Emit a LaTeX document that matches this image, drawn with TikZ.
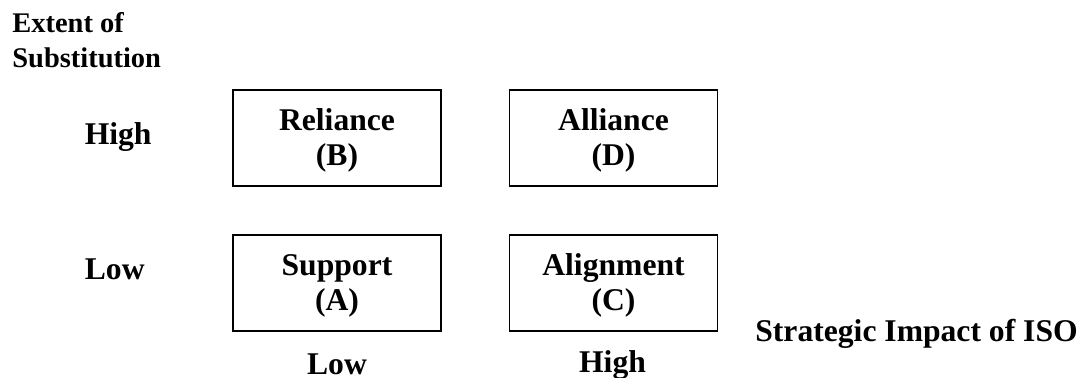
\documentclass[tikz,border=0pt]{standalone}
\usepackage{fontspec}
\setmainfont{Liberation Serif}
% pushes the first line of a box a little lower, as in the reference
\newcommand{\quadlines}[2]{\rule{0pt}{0.534cm}#1\\#2}
\tikzset{
  quad/.style={draw, line width=0.9pt, minimum width=4.16cm, minimum height=1.92cm, align=center, inner sep=0pt},
  lbl/.style={anchor=base west, inner sep=0pt},
  tick/.style={anchor=base, inner sep=0pt}
}
\begin{document}
\begin{tikzpicture}[x=0.02cm, y=-0.02cm, font=\fontsize{18}{19.9}\selectfont\bfseries]
			%%%%% START %%%%%
			\useasboundingbox (0, 0) rectangle (1086, 378);
			
			\node[lbl, font=\fontsize{16.2}{19.9}\selectfont\bfseries] (ext) at (12, 33) {Extent of};
			\node[lbl, font=\fontsize{16.2}{19.9}\selectfont\bfseries] (sub) at (12, 68) {Substitution};
			
			\node[lbl] (high) at (84.4, 145) {High};
			\node[lbl] (low) at (84.5, 280) {Low};
			
			\node[quad] (rel) at (337, 138) {\quadlines{Reliance}{(B)}};
			\node[quad] (all) at (613.5, 138) {\quadlines{Alliance}{(D)}};
			\node[quad] (sup) at (337, 283) {\quadlines{Support}{(A)}};
			\node[quad] (ali) at (613.5, 283) {\quadlines{Alignment}{(C)}};
			
			\node[tick] (lowx) at (337, 375) {Low};
			\node[tick] (highx) at (612.5, 373) {High};
			
			\node[lbl] (imp) at (755, 342) {Strategic Impact of ISO};
			%%%%% END %%%%%
\end{tikzpicture}
\end{document}
